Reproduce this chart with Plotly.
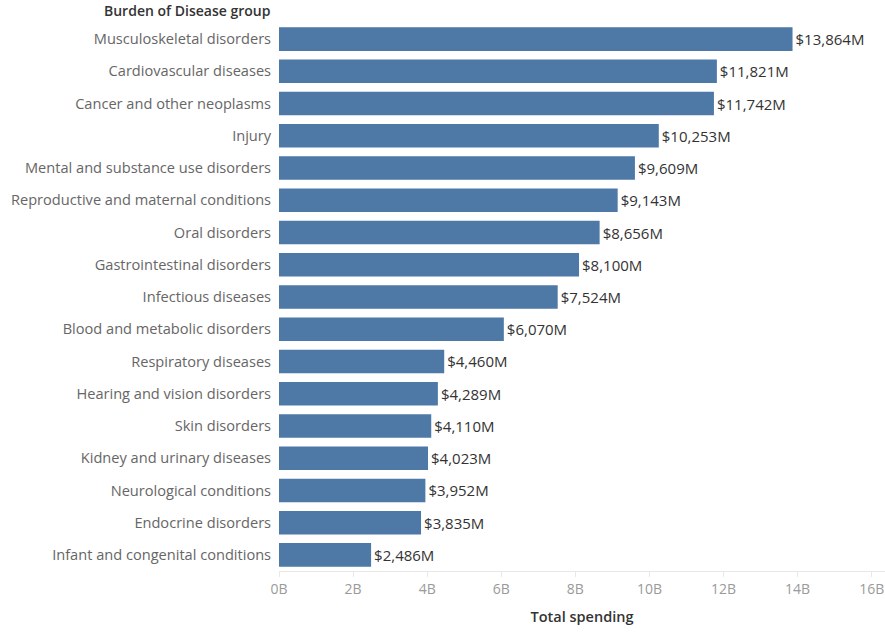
import plotly.graph_objects as go

# Burden of Disease groups and total spending (millions of dollars)
groups = [
    "Musculoskeletal disorders",
    "Cardiovascular diseases",
    "Cancer and other neoplasms",
    "Injury",
    "Mental and substance use disorders",
    "Reproductive and maternal conditions",
    "Oral disorders",
    "Gastrointestinal disorders",
    "Infectious diseases",
    "Blood and metabolic disorders",
    "Respiratory diseases",
    "Hearing and vision disorders",
    "Skin disorders",
    "Kidney and urinary diseases",
    "Neurological conditions",
    "Endocrine disorders",
    "Infant and congenital conditions",
]
spending_m = [13864, 11821, 11742, 10253, 9609, 9143, 8656, 8100, 7524,
              6070, 4460, 4289, 4110, 4023, 3952, 3835, 2486]

tick_vals_b = [0, 2, 4, 6, 8, 10, 12, 14, 16]
tick_text = ["0B", "2B", "4B", "6B", "8B", "10B", "12B", "14B", "16B"]

FONT = "Open Sans"
BAR = "#4e79a7"

spending_b = [v / 1000 for v in spending_m]
labels = [f"${v:,}M" for v in spending_m]

fig = go.Figure(go.Bar(
    x=spending_b,
    y=groups,
    orientation="h",
    marker=dict(color=BAR, line=dict(width=0)),
    text=labels,
    textposition="outside",
    textfont=dict(family=FONT, size=15, color="#333333"),
    cliponaxis=False,
    hoverinfo="skip",
))

fig.update_layout(
    width=885,
    height=632,
    margin=dict(l=279, r=0, t=23, b=61),
    paper_bgcolor="white",
    plot_bgcolor="white",
    bargap=0.27,
    showlegend=False,
    font=dict(family=FONT),
)

fig.update_xaxes(
    range=[0, 16.36],
    tickvals=tick_vals_b,
    ticktext=tick_text,
    tickfont=dict(family=FONT, size=14, color="#9a9a9a"),
    showgrid=False,
    zeroline=False,
    showline=True,
    linecolor="#e8e8e8",
    linewidth=1,
    ticks="outside",
    ticklen=5,
    tickcolor="#e8e8e8",
    title=dict(text="Total spending", standoff=15,
               font=dict(family=FONT, size=14.5, color="#333333", weight=600)),
    fixedrange=True,
)

fig.update_yaxes(
    categoryorder="array",
    categoryarray=groups[::-1],
    tickfont=dict(family=FONT, size=14.6, color="#666666"),
    showgrid=False,
    zeroline=False,
    showline=False,
    ticks="outside",
    ticklen=4,
    tickcolor="rgba(0,0,0,0)",
    fixedrange=True,
)

fig.add_annotation(
    text="Burden of Disease group",
    xref="paper", yref="paper",
    x=0, y=1,
    xanchor="right", yanchor="bottom",
    xshift=-6, yshift=1,
    showarrow=False,
    font=dict(family=FONT, size=14, color="#333333", weight=600),
)

fig.write_html("out.html")
